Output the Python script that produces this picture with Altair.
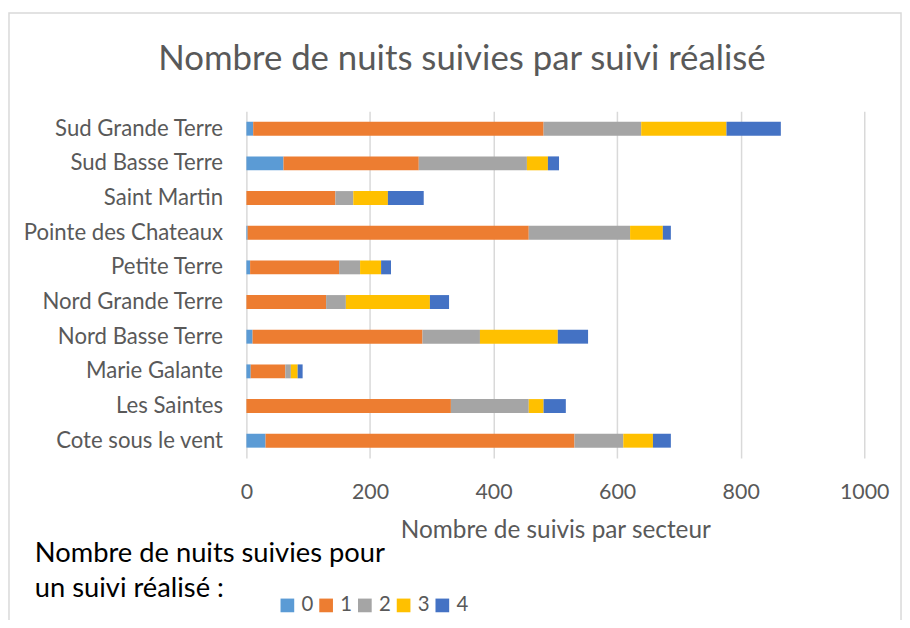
import altair as alt
import pandas as pd

sectors = ["Sud Grande Terre", "Sud Basse Terre", "Saint Martin", "Pointe des Chateaux",
           "Petite Terre", "Nord Grande Terre", "Nord Basse Terre", "Marie Galante",
           "Les Saintes", "Cote sous le vent"]
nights = ["0", "1", "2", "3", "4"]
v0 = [11, 60, 0, 2, 6, 0, 10, 7, 0, 31]
v1 = [470, 219, 144, 455, 144, 129, 275, 56, 331, 500]
v2 = [158, 175, 29, 164, 34, 32, 93, 9, 126, 79]
v3 = [138, 34, 56, 53, 34, 136, 126, 11, 24, 48]
v4 = [88, 18, 58, 13, 16, 31, 49, 8, 36, 29]
colors = ["#5B9BD5", "#ED7D31", "#A5A5A5", "#FFC000", "#4472C4"]

rows = []
for series_name, vals in zip(nights, [v0, v1, v2, v3, v4]):
    for s, v in zip(sectors, vals):
        rows.append({"secteur": s, "nuits": series_name, "n": v, "ord": int(series_name)})
df = pd.DataFrame(rows)

FONT = "Lato"
W, H = 622, 349

bars = alt.Chart(df).mark_bar(size=14).encode(
    y=alt.Y("secteur:N", sort=sectors, title=None,
            axis=alt.Axis(domain=False, ticks=False, labelPadding=24, labelFontSize=22.3,
                          labelColor="#595959", labelFont=FONT, grid=False, labelLimit=400)),
    x=alt.X("n:Q", stack="zero", title="Nombre de suivis par secteur",
            scale=alt.Scale(domain=[0, 1000], nice=False),
            axis=alt.Axis(values=[0, 200, 400, 600, 800, 1000], format="d", domain=False, ticks=False,
                          labelFlush=False, labelPadding=24, labelFontSize=21.5, labelColor="#595959",
                          labelFont=FONT, titleFont=FONT, titleFontSize=24.5,
                          titleFontWeight="normal", titleColor="#595959", titlePadding=15,
                          gridColor="#d9d9d9", gridWidth=1.5)),
    color=alt.Color("nuits:N", scale=alt.Scale(domain=nights, range=colors),
                    legend=alt.Legend(orient="none", legendX=31, legendY=487, direction="horizontal",
                                      title=None, symbolType="square", symbolSize=190,
                                      symbolStrokeWidth=0, labelFontSize=20.5, labelFont=FONT,
                                      labelColor="#595959", columnPadding=2, labelOffset=4,
                                      symbolOpacity=1)),
    order=alt.Order("ord:Q"),
)

title_df = pd.DataFrame({"t": ["Nombre de nuits suivies par suivi réalisé"]})
title = alt.Chart(title_df).mark_text(fontSize=35, font=FONT, color="#595959",
                                      align="center", baseline="middle").encode(
    text="t:N", x=alt.value(465 - 248), y=alt.value(57 - 110))

leg_df = pd.DataFrame({"t": ["Nombre de nuits suivies pour", "un suivi réalisé :"]})
leg1 = alt.Chart(leg_df.iloc[[0]]).mark_text(fontSize=27.5, font=FONT, color="#000000",
                                            align="left", baseline="middle").encode(
    text="t:N", x=alt.value(35 - 248), y=alt.value(556 - 110))
leg2 = alt.Chart(leg_df.iloc[[1]]).mark_text(fontSize=27.5, font=FONT, color="#000000",
                                            align="left", baseline="middle").encode(
    text="t:N", x=alt.value(35 - 248), y=alt.value(591 - 110))

border = alt.Chart(pd.DataFrame({"a": [0]})).mark_rect(fill=None, stroke="#d9d9d9",
                                                       strokeWidth=1.5).encode(
    x=alt.value(9 - 248), x2=alt.value(907 - 248), y=alt.value(11 - 110), y2=alt.value(640 - 110))

chart = alt.layer(border, bars, title, leg1, leg2).properties(
    width=W, height=H,
    autosize=alt.AutoSizeParams(type="none"),
    padding={"left": 240, "top": 102, "right": 38, "bottom": 161},
).configure(background="white").configure_view(stroke=None)

chart.save("out.html", embed_options={"renderer": "svg", "actions": False})
